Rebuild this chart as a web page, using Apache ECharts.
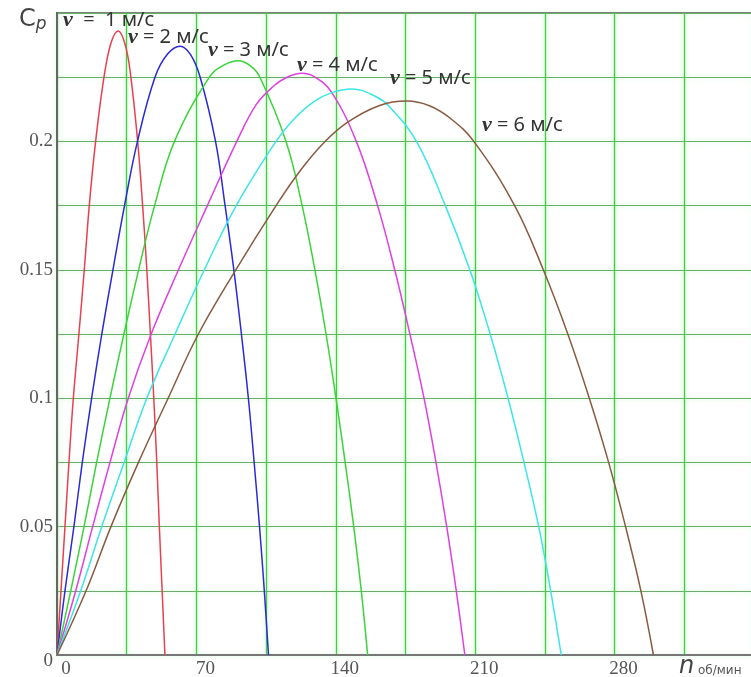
<!DOCTYPE html>
<html>
<head>
<meta charset="utf-8">
<script src="https://cdn.jsdelivr.net/npm/echarts@6/dist/echarts.min.js"></script>
<style>
html,body{margin:0;padding:0;background:#fff;}
#chart{width:751px;height:677px;}
</style>
</head>
<body>
<div id="chart"></div>
<script>
// ---- data (n, об/мин ; Cp) ----
const seriesNames = ['v = 1 м/с', 'v = 2 м/с', 'v = 3 м/с', 'v = 4 м/с', 'v = 5 м/с', 'v = 6 м/с'];
const labelTexts = ['  =  1 м/с', ' = 2 м/с', ' = 3 м/с', ' = 4 м/с', ' = 5 м/с', ' = 6 м/с'];
const curveV1 = [[0,0],[2.0,0.025],[4.0,0.05],[6.0,0.075],[8.2,0.1],[11.0,0.125],[13.7,0.15],[16.2,0.175],[19.4,0.2],[23.6,0.225],[27.2,0.2385],[30.8,0.243],[34.4,0.2372],[37.1,0.225],[40.5,0.2],[43.0,0.175],[45.1,0.15],[46.9,0.125],[48.6,0.1],[50.1,0.075],[51.4,0.05],[52.8,0.025],[54.2,0]];
const curveV2 = [[0,0],[4.0,0.025],[8.5,0.05],[12.7,0.075],[17.4,0.1],[22.5,0.125],[28.1,0.15],[33.9,0.175],[40.4,0.2],[49.2,0.225],[55.5,0.234],[61.8,0.2371],[67.0,0.2339],[71.9,0.225],[79.6,0.2],[84.4,0.175],[88.8,0.15],[92.6,0.125],[96.1,0.1],[99.0,0.075],[101.7,0.05],[104.1,0.025],[106.2,0]];
const curveV3 = [[0,0],[6.9,0.025],[13.6,0.05],[19.9,0.075],[26.6,0.1],[33.6,0.125],[41.0,0.15],[49.0,0.175],[59.0,0.2],[76.5,0.225],[83.5,0.2296],[91.1,0.2314],[97.0,0.2295],[101.9,0.225],[115.0,0.2],[123.1,0.175],[129.5,0.15],[135.1,0.125],[140.1,0.1],[144.7,0.075],[149.0,0.05],[152.8,0.025],[156.0,0]];
const curveV4 = [[0,0],[9.4,0.025],[17.9,0.05],[26.6,0.075],[35.8,0.1],[47.3,0.125],[61.0,0.15],[75.5,0.175],[90.3,0.2],[100.0,0.2143],[108.7,0.2215],[115.3,0.2249],[123.0,0.2265],[129.6,0.225],[138.0,0.219],[150.3,0.2],[161.0,0.175],[169.6,0.15],[177.2,0.125],[184.3,0.1],[190.3,0.075],[195.7,0.05],[200.5,0.025],[204.8,0]];
const curveV5 = [[0,0],[11.9,0.025],[22.5,0.05],[33.7,0.075],[45.1,0.1],[59.3,0.125],[74.0,0.15],[90.0,0.175],[110.0,0.2],[120.0,0.2095],[129.0,0.2155],[138.0,0.219],[148.1,0.2204],[160.0,0.2175],[167.0,0.2135],[180.5,0.2],[195.0,0.175],[207.3,0.15],[217.5,0.125],[226.5,0.1],[234.5,0.075],[241.9,0.05],[247.9,0.025],[253.2,0]];
const curveV6 = [[0,0],[14.6,0.025],[27.1,0.05],[40.9,0.075],[55.8,0.1],[71.0,0.125],[89.8,0.15],[110.0,0.175],[122.0,0.1885],[134.0,0.1995],[146.0,0.2075],[162.0,0.214],[175.7,0.2157],[187.0,0.2139],[197.5,0.209],[209.3,0.2],[229.8,0.175],[244.2,0.15],[256.5,0.125],[267.3,0.1],[277.0,0.075],[285.5,0.05],[293.2,0.025],[299.5,0]];
const curves = [curveV1, curveV2, curveV3, curveV4, curveV5, curveV6];
const colors = ['#e8404e', '#2a2ad6', '#3ad43a', '#e040e0', '#3ce6e6', '#8a5a40'];
const xTickLabels = [0, 70, 140, 210, 280];
const yTickLabels = [0, 0.05, 0.1, 0.15, 0.2];

const chart = echarts.init(document.getElementById('chart'), null, {renderer: 'canvas'});

const labelPos = [[63,20],[128,37],[208,50],[297,65],[390,78],[482,125]];

const option = {
  animation: false,
  backgroundColor: '#ffffff',
  grid: {left: 57, top: 13, width: 697, height: 642, outerBoundsMode: 'none', containLabel: false, show: true, borderColor: '#7a7a7a', borderWidth: 2, backgroundColor: 'transparent'},
  xAxis: {
    type: 'value', min: 0, max: 350, interval: 35,
    axisLine: {show: true, onZero: false, lineStyle: {color: '#777', width: 2}},
    axisTick: {show: false},
    axisLabel: {
      color: '#555', fontFamily: 'Liberation Serif', fontSize: 19, margin: 5, padding: [0,0,0,18],
      formatter: v => xTickLabels.indexOf(Math.round(v)) >= 0 ? String(Math.round(v)) : ''
    },
    splitLine: {show: true, lineStyle: {color: '#3fcf3f', width: 1.3, shadowColor: 'rgba(120,235,120,0.6)', shadowBlur: 4}}
  },
  yAxis: {
    type: 'value', min: 0, max: 0.25, interval: 0.025,
    axisLine: {show: true, onZero: false, lineStyle: {color: '#666', width: 2}},
    axisTick: {show: false},
    axisLabel: {
      color: '#555', fontFamily: 'Liberation Serif', fontSize: 19, margin: 4,
      formatter: v => {
        const r = Math.round(v * 1000) / 1000;
        if (r === 0) return '{z|0}';
        return yTickLabels.some(t => Math.abs(t - r) < 1e-6) ? String(r) : '';
      },
      rich: {z: {fontFamily: 'Liberation Serif', fontSize: 19, color: '#555', padding: [12,0,0,0]}}
    },
    splitLine: {show: true, lineStyle: {color: '#6aac6a', width: 1.2, shadowColor: 'rgba(140,235,140,0.55)', shadowBlur: 4}}
  },
  series: curves.map((c, i) => ({
    name: seriesNames[i], type: 'line', data: c, smooth: 0.4, showSymbol: false,
    lineStyle: {color: colors[i], width: 1.5}, z: 3
  })),
  graphic: [
    {type: 'text', left: 19, top: 8, style: {text: '{c|C}{p|p}', rich: {c: {fontFamily: 'DejaVu Sans', fontSize: 24, fill: '#444'}, p: {fontFamily: 'DejaVu Sans', fontStyle: 'italic', fontSize: 17, fill: '#444', padding: [10,0,0,0]}}}},
    {type: 'text', left: 679, top: 655, style: {text: '{n|n}{u| об/мин}', rich: {n: {fontFamily: 'DejaVu Sans', fontStyle: 'italic', fontSize: 24, fill: '#444'}, u: {fontFamily: 'DejaVu Sans', fontSize: 12, fill: '#555', padding: [8,0,0,0]}}}}
  ].concat(labelPos.map((p, i) => ({
    type: 'text', x: p[0], y: p[1], z: 10,
    style: {
      text: '{v|v}{t|' + labelTexts[i] + '}',
      verticalAlign: 'middle',
      rich: {
        v: {fontFamily: 'Liberation Serif', fontStyle: 'italic', fontWeight: 'bold', fontSize: 22, fill: '#333'},
        t: {fontFamily: 'Noto Sans', fontSize: 20, fill: '#333'}
      }
    }
  })))
};
chart.setOption(option);
</script>
</body>
</html>
